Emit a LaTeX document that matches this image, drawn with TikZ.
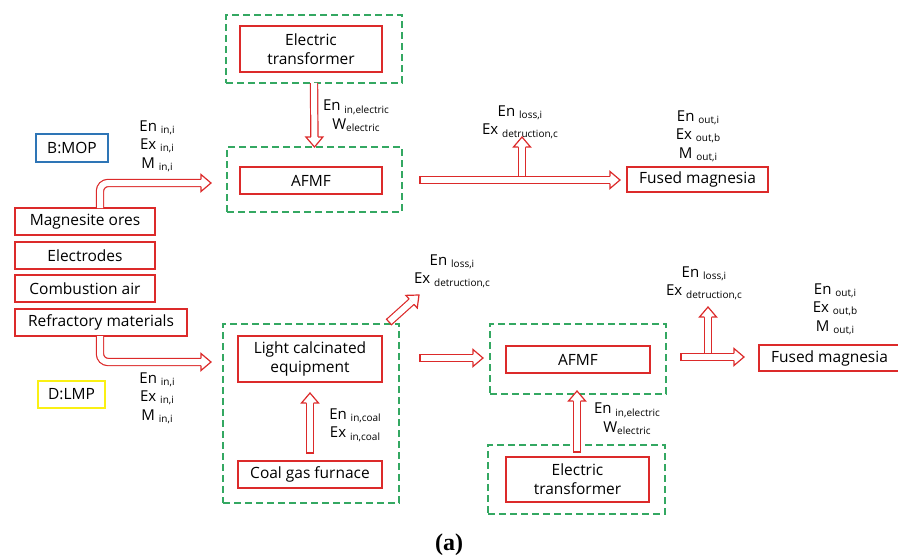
\documentclass[tikz,border=0pt]{standalone}
\usepackage{fontspec}
\setmainfont{Open Sans}
\newfontfamily\capfont{Liberation Serif}
\usetikzlibrary{decorations.markings,calc}
\definecolor{redc}{RGB}{220,42,42}
\definecolor{greenc}{RGB}{52,168,98}
\definecolor{bluec}{RGB}{46,117,182}
\definecolor{yellowc}{RGB}{250,240,20}
\newcommand\sbn[1]{{\fontsize{10}{10}\selectfont\raisebox{-0.4ex}{#1}}}
\tikzset{
  rbox/.style={draw=redc, line width=1.5pt, inner sep=0pt, outer sep=0pt, align=center,
    font=\fontsize{15.5}{19}\selectfont},
  gbox/.style={draw=greenc, line width=1.5pt, dash pattern=on 7pt off 4pt, inner sep=0pt, outer sep=0pt},
  tagbox/.style={line width=1.5pt, inner sep=0pt, outer sep=0pt, font=\fontsize{15.5}{17}\selectfont},
  lbl/.style={align=center, inner sep=0pt, font=\fontsize{15}{18.5}\selectfont},
  harrow/.style={draw=redc, line width=1.2pt, double=white, double distance=6pt,
    shorten >=10pt, rounded corners=8pt,
    postaction={decorate, decoration={markings, mark=at position 1 with {
      \draw[redc, line width=1.2pt, fill=white, line join=miter, shorten >=0pt, shorten <=0pt, sharp corners]
        (-10pt,3.6pt) -- (-10pt,8.5pt) -- (0pt,0pt) -- (-10pt,-8.5pt) -- (-10pt,-3.6pt);}}}},
  tailclose/.style={postaction={decorate, decoration={markings, mark=at position 0 with {
      \draw[redc, line width=1.2pt, shorten >=0pt, shorten <=0pt] (0pt,-4.2pt) -- (0pt,4.2pt);}}}}
}
\begin{document}
\begin{tikzpicture}[x=1pt,y=-1pt]
\useasboundingbox (0,0) rectangle (898,560);

% ---------- top (B:MOP) ----------
\node[gbox, minimum width=176, minimum height=68] (g1) at (314,49) {};
\node[gbox, minimum width=175, minimum height=65] (g2) at (314.5,179.5) {};
\node[rbox, minimum width=142, minimum height=46] (tr1) at (311,49) {Electric\\transformer};
\node[rbox, minimum width=142, minimum height=27] (afmf1) at (311,180.5) {AFMF};
\node[rbox, minimum width=141, minimum height=25] (fm1) at (697.5,179.5) {Fused magnesia};
\node[tagbox, draw=bluec, minimum width=72, minimum height=28] (bmop) at (72,148) {B:MOP};

\node[rbox, minimum width=140, minimum height=27] (mag) at (85,221.5) {Magnesite ores};
\node[rbox, minimum width=140, minimum height=27] (elec) at (85,255.5) {Electrodes};
\node[rbox, minimum width=140, minimum height=27] (comb) at (85,288.5) {Combustion air};
\node[rbox, minimum width=172, minimum height=27] (refr) at (101,322.5) {Refractory materials};

\node[lbl] (l1) at (356,116) {En\ \sbn{in,electric}\\W\sbn{electric}};
\node[lbl] (l2) at (157,146) {En\ \sbn{in,i}\\Ex\ \sbn{in,i}\\M\ \sbn{in,i}};
\node[lbl] (l3) at (520,122) {En\ \sbn{loss,i}\\Ex\ \sbn{detruction,c}};
\node[lbl] (l4) at (698,136) {En\ \sbn{out,i}\\Ex\ \sbn{out,b}\\M\ \sbn{out,i}};

\draw[harrow] (g1.south) -- (g2.north);
\coordinate (a2s) at ($(mag.north west)+(85,0)$);
\coordinate (a2e) at (211,183);
\draw[harrow] (a2s) |- (a2e);
\coordinate (a3s) at (420,180);
\coordinate (a3e) at (620,180);
\draw[harrow, tailclose] (a3s) -- (a3e);
\coordinate (b1s) at (522,176.4);
\coordinate (b1e) at (522,137);
\draw[harrow] (b1s) -- (b1e);

% ---------- bottom (D:LMP) ----------
\node[tagbox, draw=yellowc, minimum width=67, minimum height=27] (dlmp) at (71.5,394.5) {D:LMP};
\node[gbox, minimum width=176, minimum height=179] (g3) at (311,413.5) {};
\node[gbox, minimum width=176, minimum height=70] (g4) at (578,359) {};
\node[gbox, minimum width=177, minimum height=69] (g5) at (576.5,479.5) {};
\node[rbox, minimum width=144, minimum height=46] (lce) at (310,359) {Light calcinated\\equipment};
\node[rbox, minimum width=144, minimum height=27] (cgf) at (310,474.5) {Coal gas furnace};
\node[rbox, minimum width=144, minimum height=27] (afmf2) at (578,359.5) {AFMF};
\node[rbox, minimum width=143, minimum height=45] (tr2) at (577.5,479.5) {Electric\\transformer};
\node[rbox, minimum width=170, minimum height=26, anchor=west] (fm2) at (759,358) {\hspace*{-29pt}Fused magnesia};

\node[lbl] (l5) at (157,398) {En\ \sbn{in,i}\\Ex\ \sbn{in,i}\\M\ \sbn{in,i}};
\node[lbl] (l6) at (355,425) {En\ \sbn{in,coal}\\Ex\ \sbn{in,coal}};
\node[lbl] (l7) at (452,271) {En\ \sbn{loss,i}\\Ex\ \sbn{detruction,c}};
\node[lbl] (l8) at (627,419) {En\ \sbn{in,electric}\\W\sbn{electric}};
\node[lbl] (l9) at (704,283) {En\ \sbn{loss,i}\\Ex\ \sbn{detruction,c}};
\node[lbl] (l10) at (835,309) {En\ \sbn{out,i}\\Ex\ \sbn{out,b}\\M\ \sbn{out,i}};

\coordinate (a4s) at ($(refr.south west)+(85,0)$);
\coordinate (a4e) at (211,362);
\draw[harrow] (a4s) |- (a4e);
\coordinate (a5s) at (310,453);
\coordinate (a5e) at (310,393);
\draw[harrow, tailclose] (a5s) -- (a5e);
\coordinate (a6s) at (389,322);
\coordinate (a6e) at (419,295);
\draw[harrow, tailclose] (a6s) -- (a6e);
\coordinate (a7s) at (420,358);
\coordinate (a7e) at (483,358);
\draw[harrow, tailclose] (a7s) -- (a7e);
\coordinate (a8s) at (577,452);
\coordinate (a8e) at (577,391);
\draw[harrow, tailclose] (a8s) -- (a8e);
\coordinate (a9s) at (681,357);
\coordinate (a9e) at (744,357);
\draw[harrow, tailclose] (a9s) -- (a9e);
\coordinate (b2s) at (708,353.4);
\coordinate (b2e) at (708,307);
\draw[harrow] (b2s) -- (b2e);

\node[font=\capfont\bfseries\fontsize{24}{26}\selectfont] (cap) at (449,545) {(a)};
\end{tikzpicture}
\end{document}
